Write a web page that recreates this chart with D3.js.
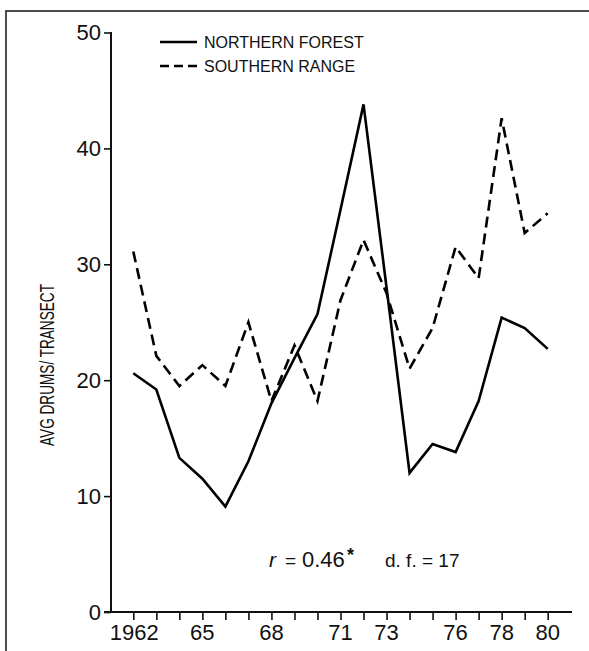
<!DOCTYPE html>
<html>
<head>
<meta charset="utf-8">
<script src="https://cdn.jsdelivr.net/npm/d3@7"></script>
<style>
  html, body { margin: 0; padding: 0; background: #fff; }
  svg { display: block; }
  text { font-family: "Liberation Sans", Arial, sans-serif; fill: #111; }
</style>
</head>
<body>
<svg id="chart" width="589" height="651"></svg>
<script>
// ---- data ----
const years = [1962,1963,1964,1965,1966,1967,1968,1969,1970,1971,1972,1973,1974,1975,1976,1977,1978,1979,1980];
const northernForest = [20.6,19.2,13.3,11.5,9.1,13.0,18.0,21.9,25.7,34.7,43.8,28.0,12.0,14.5,13.8,18.2,25.4,24.5,22.7];
const southernRange  = [31.1,22.1,19.5,21.3,19.5,25.0,18.2,23.0,18.2,26.9,32.1,27.5,21.0,24.5,31.5,28.8,42.6,32.7,34.4];
const yTicks = [0,10,20,30,40,50];
const xLabelYears = [1962,1965,1968,1971,1973,1976,1978,1980];
const xLabelText  = ["1962","65","68","71","73","76","78","80"];
const seriesNames = ["NORTHERN FOREST","SOUTHERN RANGE"];
const yTitle = "AVG DRUMS/ TRANSECT";

// ---- layout ----
const svg = d3.select("#chart");
const axisX = 111, axisBottom = 612;
const x = d3.scaleLinear().domain([1962,1980]).range([133.3,547.7]);
const y = d3.scaleLinear().domain([0,50]).range([612,32.5]);

// frame
svg.append("rect").attr("x",6).attr("y",11).attr("width",600).attr("height",660)
  .attr("fill","none").attr("stroke","#222").attr("stroke-width",1.6);

// y axis
const yAxis = d3.axisLeft(y).tickValues(yTicks).tickSize(7).tickPadding(3).tickFormat(d3.format("d"));
const gy = svg.append("g").attr("transform",`translate(${axisX},0)`).call(yAxis);
gy.select(".domain").remove();
gy.selectAll(".tick line").attr("stroke","#111").attr("stroke-width",1.6);
gy.selectAll(".tick text").attr("font-size",22).attr("fill","#111")
  .style("font-family","'Liberation Sans', Arial, sans-serif");
svg.append("line").attr("x1",axisX).attr("x2",axisX).attr("y1",y(50)-0.5).attr("y2",axisBottom+1)
  .attr("stroke","#111").attr("stroke-width",2);

// x axis
const xAxis = d3.axisBottom(x).tickValues(years).tickSize(8).tickFormat("");
const gx = svg.append("g").attr("transform",`translate(0,${axisBottom})`).call(xAxis);
gx.select(".domain").remove();
gx.selectAll(".tick line").attr("stroke","#111").attr("stroke-width",1.6);
svg.append("line").attr("x1",104).attr("x2",572).attr("y1",axisBottom).attr("y2",axisBottom)
  .attr("stroke","#111").attr("stroke-width",2);
svg.append("g").selectAll("text").data(xLabelYears).join("text")
  .attr("x",(d)=>x(d)+ (d===1962?1:0)).attr("y",640).attr("text-anchor","middle")
  .attr("font-size",22).text((d,i)=>xLabelText[i]);

// y title (condensed via horizontal scale in the rotated frame)
svg.append("text").attr("transform","translate(54,365) rotate(-90) scale(0.68,1)")
  .attr("text-anchor","middle").attr("font-size",20)
  .text(yTitle);

// lines
const line = d3.line().x((d,i)=>x(years[i])).y(d=>y(d));
svg.append("path").datum(northernForest).attr("d",line)
  .attr("fill","none").attr("stroke","#000").attr("stroke-width",2.6).attr("stroke-linejoin","miter");
svg.append("path").datum(southernRange).attr("d",line)
  .attr("fill","none").attr("stroke","#000").attr("stroke-width",2.6)
  .attr("stroke-dasharray","11,6").attr("stroke-linejoin","miter");

// legend
const leg = svg.append("g");
leg.append("line").attr("x1",160).attr("x2",197).attr("y1",42).attr("y2",42)
  .attr("stroke","#000").attr("stroke-width",2.4);
leg.append("line").attr("x1",160).attr("x2",197).attr("y1",66).attr("y2",66)
  .attr("stroke","#000").attr("stroke-width",2.4).attr("stroke-dasharray","9,5");
leg.selectAll("text").data(seriesNames).join("text")
  .attr("x",204).attr("y",(d,i)=>48+i*24).attr("font-size",16).text(d=>d);

// annotation
const ann = svg.append("text").attr("y",567).attr("font-size",19);
ann.append("tspan").attr("x",269).attr("font-style","italic").attr("font-size",21).text("r");
ann.append("tspan").attr("x",285).text("=");
ann.append("tspan").attr("x",302).attr("font-size",22).text("0.46");
ann.append("tspan").attr("x",347).attr("dy",-6).attr("font-weight","bold").attr("font-size",18).text("*");
ann.append("tspan").attr("x",385).attr("dy",6).text("d. f. = 17");
</script>
</body>
</html>
